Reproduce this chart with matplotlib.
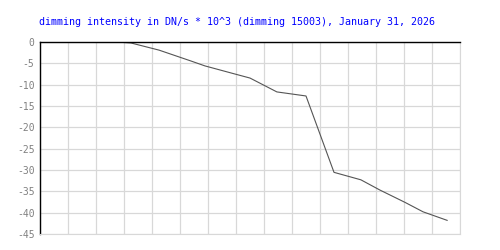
import numpy as np
from matplotlib import pyplot as plt

# dimming curve (x in grid units, y in DN/s * 10^3)
xVals = [2.75, 3.25, 4.25, 5.39, 5.89, 6.96, 7.5, 8.46, 9.5, 10.5, 11.46, 12.14, 13.04, 13.68, 14.54]
yVals = [0.0, -0.23, -1.9, -4.45, -5.6, -7.5, -8.45, -11.7, -12.65, -30.55, -32.3, -34.7, -37.6, -39.8, -41.8]
yTicks = [0, -5, -10, -15, -20, -25, -30, -35, -40, -45]
titleText = "dimming intensity in DN/s * 10^3 (dimming 15003), January 31, 2026"

plt.rcParams['font.family'] = ['DejaVu Sans Mono']
plt.rcParams['axes.unicode_minus'] = False

fig = plt.figure(figsize=(5, 2.5), dpi=100)
ax = fig.add_axes([0.08, 0.064, 0.84, 0.768])

ax.plot(xVals, yVals, color="#555555", lw=0.8)

ax.set_xlim(0, 15)
ax.set_ylim(-45, 0)
ax.set_xticks(np.arange(0, 16, 1))
ax.set_yticks(yTicks)
ax.set_xticklabels([])
ax.grid(True, color="#d8d8d8", lw=0.9)
ax.set_axisbelow(True)

ax.tick_params(axis='x', length=0)
ax.tick_params(axis='y', length=0, labelsize=7, labelcolor="#808080", pad=4)

ax.spines['left'].set_color('black')
ax.spines['top'].set_color('black')
ax.spines['left'].set_linewidth(1)
ax.spines['top'].set_linewidth(1)
ax.spines['right'].set_color('#d8d8d8')
ax.spines['bottom'].set_color('#d8d8d8')

fig.text(0.474, 0.912, titleText, color="blue", fontsize=7.2, ha='center', va='center')

fig.savefig("out.png", dpi=100)
